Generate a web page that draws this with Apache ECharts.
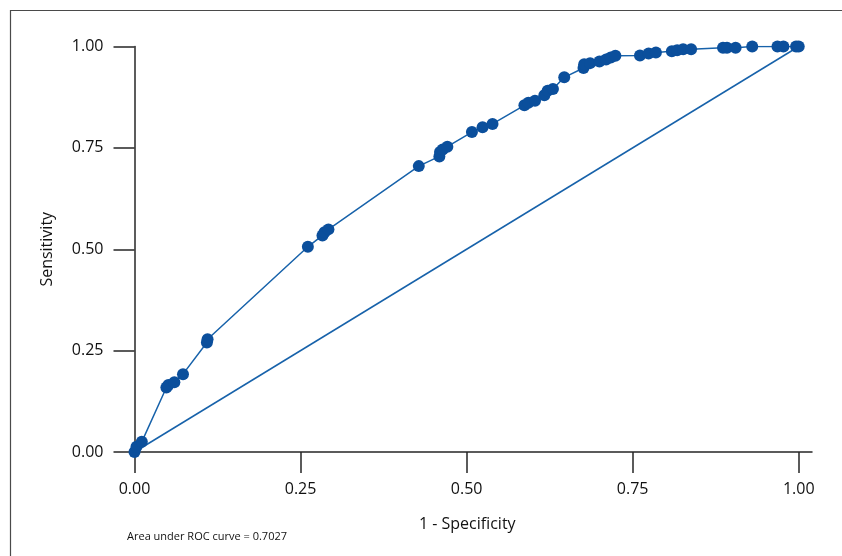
<!DOCTYPE html>
<html>
<head>
<meta charset="utf-8">
<title>ROC curve</title>
<script src="https://cdn.jsdelivr.net/npm/echarts@6/dist/echarts.min.js"></script>
<style>
  html, body { margin: 0; padding: 0; background: #fff; }
  #chart { width: 842px; height: 556px; }
</style>
</head>
<body>
<div id="chart"></div>
<script>
// 1 - Specificity (false positive rate) at each cutoff
const fpr = [
  0.000, 0.003, 0.011, 0.048, 0.051, 0.060, 0.073, 0.109, 0.110, 0.261,
  0.283, 0.286, 0.292, 0.428, 0.459, 0.460, 0.464, 0.471, 0.508, 0.524,
  0.539, 0.587, 0.593, 0.603, 0.617, 0.622, 0.630, 0.647, 0.676, 0.677,
  0.686, 0.700, 0.710, 0.717, 0.724, 0.761, 0.774, 0.785, 0.809, 0.817,
  0.826, 0.838, 0.886, 0.892, 0.905, 0.930, 0.968, 0.977, 0.996, 1.000
]
// Sensitivity at each cutoff
const tpr = [
  0.000, 0.013, 0.025, 0.159, 0.165, 0.172, 0.192, 0.270, 0.278, 0.506,
  0.534, 0.542, 0.549, 0.705, 0.729, 0.740, 0.746, 0.753, 0.789, 0.801,
  0.809, 0.855, 0.861, 0.866, 0.880, 0.891, 0.895, 0.924, 0.947, 0.956,
  0.959, 0.963, 0.968, 0.973, 0.977, 0.978, 0.983, 0.985, 0.988, 0.991,
  0.993, 0.993, 0.997, 0.997, 0.997, 1.000, 1.000, 1.000, 1.000, 1.000
]
// reference line
const diagX = [0, 1]
const diagY = [0, 1]
const tickValues = [0, 0.25, 0.5, 0.75, 1]
const aucText = 'Area under ROC curve = 0.7027'

const chart = echarts.init(document.getElementById('chart'))

const axisColor = '#262626'
const font = '"Open Sans", "Noto Sans", sans-serif'

const option = {
  animation: false,
  backgroundColor: '#fff',
  textStyle: { fontFamily: font },
  title: {
    text: aucText,
    left: 127,
    top: 531,
    padding: 0,
    textStyle: { fontSize: 11, fontWeight: 'normal', color: '#111', fontFamily: font }
  },
  // outer frame
  graphic: [{
    type: 'rect',
    shape: { x: 10.5, y: 10.5, width: 900, height: 600 },
    style: { fill: 'none', stroke: '#4a4a4a', lineWidth: 1.2 },
    silent: true
  }],
  grid: { left: 134.5, right: 30, top: 46.5, bottom: 104 },
  xAxis: {
    type: 'value',
    min: 0,
    max: 1.02,
    name: '1 - Specificity',
    nameLocation: 'middle',
    nameGap: 64,
    nameTextStyle: { fontSize: 16, color: '#111', padding: [0, 12, 0, 0], verticalAlign: 'top' },
    axisLine: { onZero: false, lineStyle: { color: axisColor, width: 1.5 } },
    axisTick: { show: true, length: 21, customValues: tickValues, lineStyle: { color: axisColor, width: 1.5 } },
    axisLabel: {
      customValues: tickValues,
      margin: 29,
      fontSize: 16,
      color: '#111',
      formatter: (v) => v.toFixed(2)
    },
    splitLine: { show: false }
  },
  yAxis: {
    type: 'value',
    min: 0,
    max: 1,
    interval: 0.25,
    name: 'Sensitivity',
    nameLocation: 'middle',
    nameGap: 79,
    nameTextStyle: { fontSize: 16, color: '#111' },
    axisLine: { show: true, onZero: false, lineStyle: { color: axisColor, width: 1.5 } },
    axisTick: { show: true, length: 21, lineStyle: { color: axisColor, width: 1.5 } },
    axisLabel: {
      margin: 31,
      fontSize: 16,
      color: '#111',
      formatter: (v) => v.toFixed(2)
    },
    splitLine: { show: false }
  },
  series: [
    {
      name: 'Reference',
      type: 'line',
      data: diagX.map((x, i) => [x, diagY[i]]),
      symbol: 'none',
      lineStyle: { color: '#1762aa', width: 1.5 },
      z: 2
    },
    {
      name: 'ROC',
      type: 'line',
      data: fpr.map((x, i) => [x, tpr[i]]),
      symbol: 'circle',
      symbolSize: 12,
      showAllSymbol: true,
      itemStyle: { color: '#0b4f9c' },
      lineStyle: { color: '#1762aa', width: 1.5 },
      z: 3
    }
  ]
}

chart.setOption(option)
</script>
</body>
</html>
